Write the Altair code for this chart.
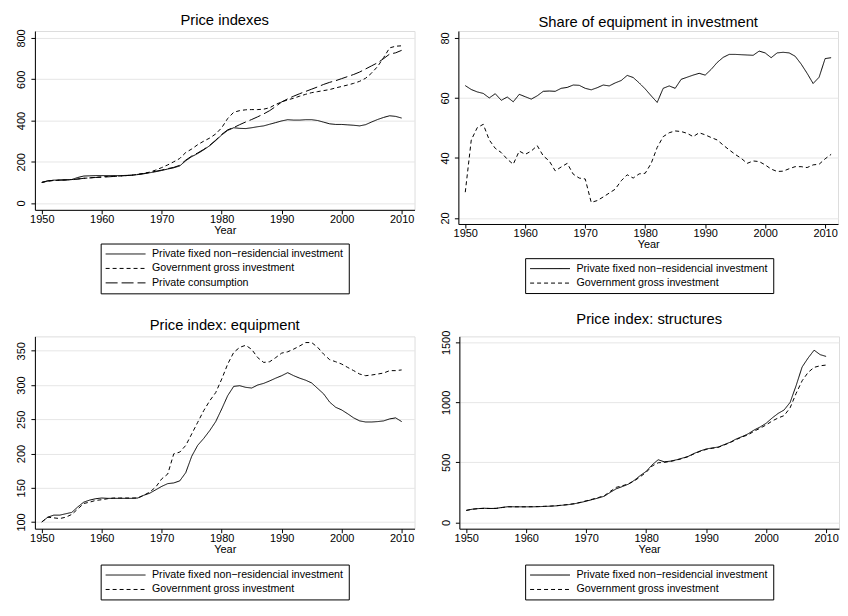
import altair as alt
import pandas as pd

FONT = "Liberation Sans"

S_PRIV = "Private fixed non−residencial investment"
S_GOV = "Government gross investment"
S_CONS = "Private consumption"

years_a = list(range(1950, 2011))
years_b = list(range(1950, 2012))
x_ticks = [1950, 1960, 1970, 1980, 1990, 2000, 2010]

# Panel 1: Price indexes
p1_private = [100, 107, 111, 112, 113, 114, 124, 131, 132, 133,
              133, 133, 133, 133, 134, 135, 138, 142, 147, 152,
              158, 165, 171, 180, 205, 225, 240, 258, 278, 303,
              330, 352, 365, 362, 361, 365, 370, 374, 382, 390,
              398, 404, 402, 402, 404, 404, 400, 392, 384, 381,
              381, 379, 377, 374, 380, 393, 405, 415, 423, 420,
              412]
p1_gov = [100, 106, 109, 111, 112, 114, 117, 120, 122, 125,
          127, 129, 130, 131, 133, 135, 139, 144, 150, 160,
          172, 185, 200, 216, 245, 262, 283, 300, 315, 335,
          365, 410, 440, 448, 452, 453, 453, 455, 462, 478,
          490, 500, 508, 518, 527, 535, 540, 545, 550, 558,
          565, 572, 580, 590, 605, 630, 662, 705, 752, 760,
          762]
p1_cons = [100, 108, 110, 111, 112, 113, 116, 120, 122, 124,
           125, 127, 129, 131, 133, 135, 139, 143, 148, 154,
           160, 167, 173, 183, 208, 228, 243, 260, 280, 305,
           333, 355, 366, 380, 393, 405, 418, 432, 448, 468,
           490, 505, 518, 530, 541, 552, 563, 575, 585, 593,
           603, 613, 623, 635, 650, 665, 680, 700, 722, 728,
           740]
p1_yticks = [0, 200, 400, 600, 800]

# Panel 2: Share of equipment in investment
p2_private = [64.1, 62.8, 62.0, 61.5, 60.0, 61.4, 59.2, 60.3, 58.7, 61.2,
              60.4, 59.6, 60.7, 62.2, 62.3, 62.2, 63.2, 63.5, 64.3, 64.2,
              63.2, 62.7, 63.4, 64.3, 64.0, 65.0, 65.8, 67.5, 66.8, 65.0,
              63.0, 60.7, 58.5, 63.2, 64.0, 63.2, 66.2, 66.9, 67.6, 68.2,
              67.6, 69.5, 71.8, 73.5, 74.5, 74.5, 74.4, 74.3, 74.2, 75.6,
              75.0, 73.4, 75.0, 75.2, 75.0, 73.9, 71.3, 68.2, 64.8, 66.9,
              73.1, 73.4]
p2_gov = [28.6, 46.0, 50.1, 51.2, 46.0, 43.2, 41.8, 39.6, 37.9, 42.3,
          41.2, 42.3, 44.1, 40.7, 39.0, 35.7, 37.0, 38.2, 34.6, 33.3,
          33.0, 25.2, 25.8, 27.0, 28.3, 29.6, 32.4, 34.4, 33.3, 34.7,
          34.9, 38.2, 43.5, 47.1, 48.4, 49.0, 48.8, 48.2, 47.1, 48.4,
          47.7, 46.8, 46.0, 44.3, 42.7, 41.2, 39.9, 38.2, 39.0, 38.8,
          37.7, 36.3, 35.5, 35.6, 36.4, 37.1, 37.1, 36.8, 37.7, 37.9,
          39.7, 41.2]
p2_yticks = [20, 40, 60, 80]

# Panel 3: Price index: equipment
p3_private = [100, 107, 110, 110, 112, 114, 122, 129, 132, 134,
              135, 134.5, 134.5, 134.5, 134.5, 134.5, 135, 139, 142, 147,
              152, 156, 157, 160, 172, 196, 212, 222, 233.5, 246.6,
              265, 284.5, 298, 299, 296.6, 295.6, 300, 302.4, 306, 310,
              313.6, 318, 313.6, 310, 307, 303, 295, 287, 275, 267.5,
              263.6, 258, 252, 247.6, 246, 246, 246.6, 247.6, 250.5, 252,
              246.6]
p3_gov = [100, 107, 106, 105, 107, 111, 119, 127, 129, 131.5,
          132.5, 134, 135, 135, 135, 135, 135, 139, 143.7, 151,
          163, 170, 199.5, 202, 211.7, 228.6, 245.6, 262.6, 277, 289,
          308.7, 330.6, 347.6, 355, 358, 352, 340, 333, 334, 340,
          346.6, 348.5, 352.4, 357, 362, 362, 355, 345, 337, 334,
          330.6, 325.7, 321, 316, 313.6, 314.6, 316, 317.5, 321, 321,
          322]
p3_yticks = [100, 150, 200, 250, 300, 350]

# Panel 4: Price index: structures
p4_private = [100, 110, 115, 118, 116, 117, 125, 131, 130, 130,
              130, 130, 131, 133, 135, 138, 143, 148, 155, 165,
              177, 190, 203, 218, 250, 280, 298, 318, 350, 390,
              425, 480, 522, 505, 510, 521, 535, 550, 575, 595,
              612, 620, 628, 648, 668, 695, 715, 738, 770, 795,
              826, 870, 908, 937, 1000, 1140, 1295, 1370, 1435, 1398,
              1383]
p4_gov = [100, 110, 115, 117, 116, 117, 124, 130, 130, 130,
          130, 131, 132, 134, 136, 139, 144, 149, 156, 167,
          180, 193, 207, 222, 258, 292, 305, 320, 345, 380,
          418, 470, 497, 500, 508, 518, 532, 548, 572, 592,
          608, 618, 625, 645, 665, 690, 712, 730, 760, 785,
          812, 845, 870, 890, 955, 1075, 1180, 1250, 1292, 1305,
          1311]
p4_yticks = [0, 500, 1000, 1500]

DASH = {S_PRIV: [1, 0], S_GOV: [4, 3], S_CONS: [12, 4]}
XDOM = [1948.85, 2012.15]


def long_df(years, series):
    rows = []
    for name, vals in series:
        for yr, v in zip(years, vals):
            rows.append({"year": yr, "value": v, "series": name})
    return pd.DataFrame(rows)


def panel(df, title, ydom, yticks, names, height, extent, legx, legy, toff):
    return alt.Chart(df, title=alt.Title(
        title, font=FONT, fontSize=14.8, fontWeight="normal", color="black",
        anchor="middle", frame="group", offset=toff)
    ).mark_line(color="black", strokeWidth=1, clip=True).encode(
        x=alt.X("year:Q",
                scale=alt.Scale(domain=XDOM, nice=False, zero=False),
                axis=alt.Axis(values=x_ticks, format="d", title="Year", grid=False,
                              labelFont=FONT, labelFontSize=11, labelColor="black",
                              titleFont=FONT, titleFontSize=11, titleFontWeight="normal",
                              titleColor="black", titlePadding=0, labelPadding=0,
                              tickSize=4, tickColor="black", domainColor="black",
                              labelFlush=False)),
        y=alt.Y("value:Q",
                scale=alt.Scale(domain=ydom, nice=False, zero=False),
                axis=alt.Axis(values=yticks, format="d", title=None, grid=True,
                              gridColor="#e6e6e6", gridWidth=1, labelAngle=-90,
                              labelAlign="center", labelBaseline="bottom",
                              labelFont=FONT, labelFontSize=11,
                              labelColor="black", labelPadding=4, tickSize=4,
                              tickColor="black", domainColor="black",
                              minExtent=extent, maxExtent=extent, labelFlush=False)),
        strokeDash=alt.StrokeDash(
            "series:N",
            scale=alt.Scale(domain=names, range=[DASH[n] for n in names]),
            legend=alt.Legend(orient="none", legendX=legx, legendY=legy,
                              direction="vertical", title=None, strokeColor="black",
                              fillColor="white", padding=5, labelFont=FONT,
                              labelFontSize=10.7, labelColor="black",
                              symbolType="M-4,0H4", symbolSize=100,
                              symbolStrokeWidth=1, symbolStrokeColor="black",
                              symbolOffset=14.5, labelOffset=21, rowPadding=2.5,
                              labelLimit=400)),
    ).properties(width=381, height=height)


df1 = long_df(years_a, [(S_PRIV, p1_private), (S_GOV, p1_gov), (S_CONS, p1_cons)])
df2 = long_df(years_b, [(S_PRIV, p2_private), (S_GOV, p2_gov)])
df3 = long_df(years_a, [(S_PRIV, p3_private), (S_GOV, p3_gov)])
df4 = long_df(years_a, [(S_PRIV, p4_private), (S_GOV, p4_gov)])

c1 = panel(df1, "Price indexes", [-32.8, 833.8], p1_yticks, [S_PRIV, S_GOV, S_CONS],
           179.5, 26, 66, 213.3, 1)
c2 = panel(df2, "Share of equipment in investment", [18.0, 82.3], p2_yticks,
           [S_PRIV, S_GOV], 193.7, 26, 67, 228, 1)
c3 = panel(df3, "Price index: equipment", [90.2, 371], p3_yticks, [S_PRIV, S_GOV],
           193, 21.6, 66, 229, 3.4)
c4 = panel(df4, "Price index: structures", [-52.4, 1550], p4_yticks, [S_PRIV, S_GOV],
           193, 21.6, 66, 229, 3.4)

row1 = alt.hconcat(c1, c2, spacing=16).resolve_scale(strokeDash="independent")
row2 = alt.hconcat(c3, c4, spacing=21).resolve_scale(strokeDash="independent")

chart = alt.vconcat(row1, row2, spacing=16.5).resolve_scale(
    strokeDash="independent"
).properties(padding={"left": 0, "top": 3, "right": 0, "bottom": 0}).configure_view(
    stroke=None).configure(font=FONT, background="white")

chart.save("out.html", embed_options={"renderer": "svg", "actions": False})
